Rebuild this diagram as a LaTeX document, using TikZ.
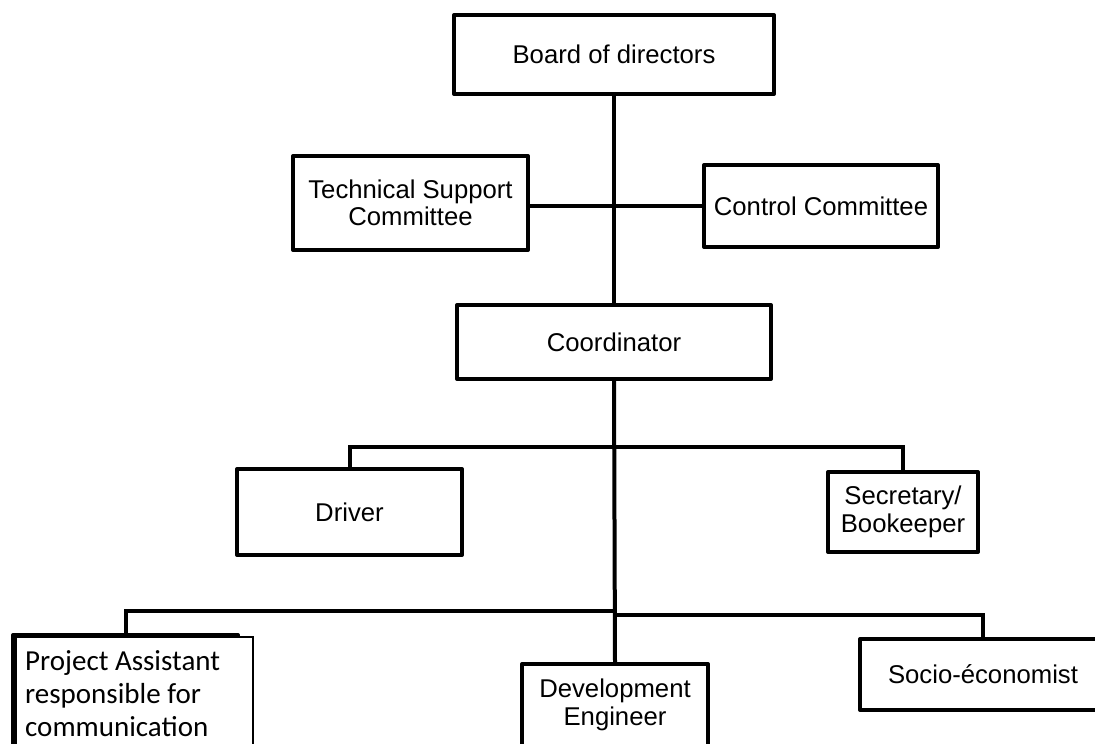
\documentclass[tikz,border=0pt]{standalone}
\usepackage{fontspec}
\setmainfont{Liberation Sans}
\newfontfamily\calfont{Carlito}
\newcommand\boxfont{\fontsize{25.7}{27.5}\selectfont}
\newcommand\pafont{\calfont\fontsize{29}{33}\selectfont}
\begin{document}
\begin{tikzpicture}[x=1pt,y=-1pt,
  box/.style={draw, line width=4pt, line join=round, fill=white, inner sep=0pt, align=center, font=\boxfont},
  thinbox/.style={draw, line width=1.2pt, fill=white, inner sep=0pt},
  link/.style={line width=4pt}]
\useasboundingbox (0,0) rectangle (1095,744);
% boxes
\node[box, minimum width=320pt, minimum height=79pt] (board) at (614,54.5) {Board of directors};
\node[box, minimum width=235pt, minimum height=94pt] (tsc) at (410.5,203) {Technical Support\\Committee};
\node[box, minimum width=234pt, minimum height=82pt] (ctrl) at (821,206) {Control Committee};
\node[box, minimum width=314pt, minimum height=74pt] (coord) at (614,342) {Coordinator};
\node[box, minimum width=225pt, minimum height=86pt] (driver) at (349.5,512) {Driver};
\node[box, minimum width=150pt, minimum height=80pt] (sec) at (903,512) {Secretary/\\Bookeeper};
\node[box, minimum width=186pt, minimum height=82pt] (dev) at (615,705) {Development\\Engineer};
\node[box, minimum width=246pt, minimum height=71pt] (socio) at (983,674.5) {Socio-économist};
\node[box, minimum width=225pt, minimum height=125pt] (pa) at (125.5,697.5) {};
\node[thinbox, minimum width=237pt, minimum height=123pt] (pab) at (134.5,698.5) {};
\node[anchor=north west, inner sep=0pt, align=left, font=\pafont] (pat) at (25,649)
  {\rule{0pt}{21pt}Project Assistant\\responsible for\\communication};
% connectors
\coordinate (hj) at (614,206);
\coordinate (b1) at (614,447);
\coordinate (b2l) at (614,611);
\coordinate (b2r) at (614,615);
\draw[link] (board.south) -- (coord.north);
\draw[link] (tsc.east |- hj) -- (ctrl.west |- hj);
\draw[link] (coord.south) -- (dev.north);
\draw[link] (driver.north) -- (driver.north |- b1) -- (sec.north |- b1) -- (sec.north);
\draw[link] (pa.north) -- (pa.north |- b2l) -- (b2l);
\draw[link] (b2r) -- (socio.north |- b2r) -- (socio.north);
\end{tikzpicture}
\end{document}
